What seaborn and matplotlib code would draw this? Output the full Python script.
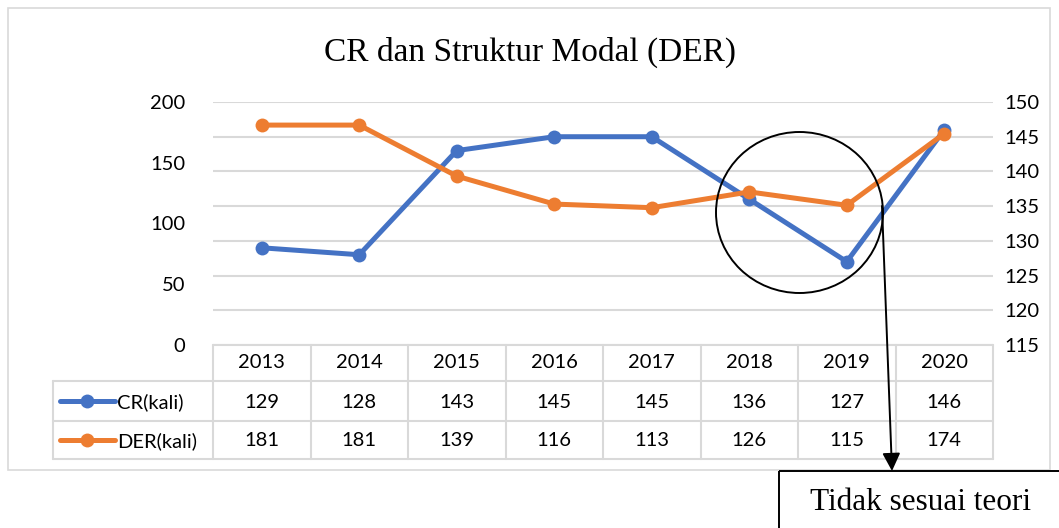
import numpy as np
import pandas as pd
import matplotlib.pyplot as plt
import seaborn as sns
from matplotlib.patches import Rectangle, Ellipse

years = ["2013", "2014", "2015", "2016", "2017", "2018", "2019", "2020"]
cr_kali = [129, 128, 143, 145, 145, 136, 127, 146]
der_kali = [181, 181, 139, 116, 113, 126, 115, 174]
left_ticks = [0, 50, 100, 150, 200]
right_ticks = [115, 120, 125, 130, 135, 140, 145, 150]

blue = "#4472C4"
orange = "#ED7D31"
grid_col = "#D9D9D9"

sns.set_theme(style="white")
plt.rcParams["font.family"] = ["Lato", "DejaVu Sans"]
plt.rcParams["text.color"] = "black"
plt.rcParams["ytick.labelcolor"] = "black"
FS = 14.5

df = pd.DataFrame({"pos": np.arange(len(years)), "year": years,
                   "CR": cr_kali, "DER": der_kali})

W, H = 1059, 528
fig = plt.figure(figsize=(W / 100, H / 100), dpi=100)

# plot area in pixels: x 213..993, y 102..345
ax = fig.add_axes([213 / W, 1 - 345 / H, 780 / W, 243 / H])
ax2 = ax.twinx()

sns.lineplot(data=df, x="pos", y="CR", ax=ax, color=blue, linewidth=3.6,
             marker="o", markersize=10, markeredgewidth=0)
ax.set_xlim(-0.5, len(years) - 0.5)
ax.set_ylim(115, 150)
ax.set_yticks(right_ticks)
ax.set_xticks([])
ax.grid(axis="y", color=grid_col, linewidth=1.5)
ax.set_xlabel("")
ax.set_ylabel("")

sns.lineplot(data=df, x="pos", y="DER", ax=ax2, color=orange, linewidth=3.6,
             marker="o", markersize=10, markeredgewidth=0)
ax2.set_xlim(-0.5, len(years) - 0.5)
ax2.set_ylim(0, 200)
ax2.set_yticks(left_ticks)
ax2.set_xticks([])
ax2.set_xlabel("")
ax2.set_ylabel("")
ax2.grid(False)

# CR on the right, DER on the left
ax.yaxis.set_ticks_position("right")
ax2.yaxis.set_ticks_position("left")
ax.tick_params(axis="y", which="both", length=0, pad=8, labelsize=FS,
               left=False, labelleft=False, right=False, labelright=True)
ax2.tick_params(axis="y", which="both", length=0, pad=20, labelsize=FS,
                right=False, labelright=False, left=False, labelleft=True)
for a in (ax, ax2):
    for s in a.spines.values():
        s.set_visible(False)

# overlay in pixel coords for table, border and annotation
ov = fig.add_axes([0, 0, 1, 1], zorder=5)
ov.set_xlim(0, W)
ov.set_ylim(H, 0)
ov.axis("off")
ov.patch.set_alpha(0)

ov.add_patch(Rectangle((8, 8), 1042, 462, fill=False, edgecolor=grid_col, linewidth=1.2))

x0, x1 = 213, 993
cw = (x1 - x0) / len(years)
y_top, y_r1, y_r2, y_bot = 345, 381, 421, 459
lkw = dict(color=grid_col, linewidth=1.5)
for i in range(len(years) + 1):
    xx = x0 + i * cw
    ov.plot([xx, xx], [y_top, y_bot], **lkw)
ov.plot([x0, x1], [y_top, y_top], **lkw)
for yy in (y_r1, y_r2, y_bot):
    ov.plot([53, x1], [yy, yy], **lkw)
ov.plot([53, 53], [y_r1, y_bot], **lkw)

for i, yr in enumerate(years):
    cx = x0 + (i + 0.5) * cw
    ov.text(cx, 363, yr, ha="center", va="center", fontsize=FS)
    ov.text(cx, 402, str(cr_kali[i]), ha="center", va="center", fontsize=FS)
    ov.text(cx, 441, str(der_kali[i]), ha="center", va="center", fontsize=FS)

for yy, col, lab in ((401, blue, "CR(kali)"), (440, orange, "DER(kali)")):
    ov.plot([60, 115], [yy, yy], color=col, linewidth=3.6, solid_capstyle="round")
    ov.plot([87], [yy], "o", color=col, markersize=10, markeredgewidth=0)
    ov.text(117, yy + 1, lab, ha="left", va="center", fontsize=FS)

fig.text(530 / W, 1 - 52 / H, "CR dan Struktur Modal (DER)", ha="center", va="center",
         fontsize=24, family=["Liberation Serif", "DejaVu Serif"])

ov.add_patch(Ellipse((799.5, 212.5), 167, 161, fill=False, edgecolor="black", linewidth=1.4))
ov.annotate("", xy=(892, 471), xytext=(882, 206),
            arrowprops=dict(arrowstyle="-|>,head_length=0.9,head_width=0.45",
                            color="black", linewidth=1.4, shrinkA=0, shrinkB=0))
ov.add_patch(Rectangle((779, 471), 290, 70, fill=False, edgecolor="black",
                       linewidth=1.4, clip_on=False))
ov.text(921, 502, "Tidak sesuai teori", ha="center", va="center", fontsize=22.5,
        family=["Liberation Serif", "DejaVu Serif"])

fig.savefig("out.png", dpi=100)
